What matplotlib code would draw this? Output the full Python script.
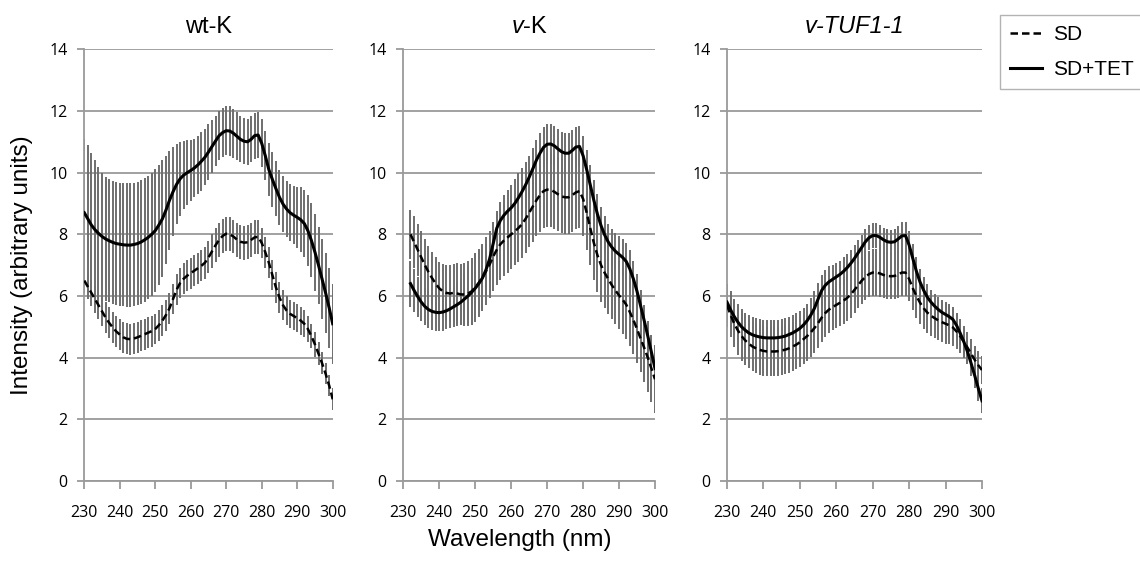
import numpy as np
import matplotlib
matplotlib.use("Agg")
import matplotlib.pyplot as plt

plt.rcParams['mathtext.fontset'] = 'custom'
plt.rcParams['mathtext.rm'] = 'Liberation Sans'
plt.rcParams['mathtext.it'] = 'Liberation Sans:italic'

# wavelength axis (nm)
wl_full = list(range(230, 301))
wl_vk = list(range(232, 301))

# ---- wt-K ----
wt_sd = [6.50, 6.30, 6.10, 5.90, 5.70, 5.50, 5.30, 5.13, 4.98, 4.85,
         4.75, 4.66, 4.61, 4.60, 4.62, 4.66, 4.71, 4.76, 4.81, 4.86,
         4.93, 5.05, 5.20, 5.38, 5.60, 5.90, 6.20, 6.42, 6.56, 6.66,
         6.74, 6.82, 6.90, 6.98, 7.08, 7.25, 7.45, 7.65, 7.82, 7.95,
         8.02, 8.00, 7.93, 7.83, 7.76, 7.73, 7.74, 7.82, 7.90, 7.92,
         7.72, 7.42, 7.08, 6.68, 6.28, 5.95, 5.70, 5.53, 5.42, 5.35,
         5.28, 5.20, 5.10, 4.93, 4.70, 4.43, 4.13, 3.82, 3.48, 3.10,
         2.65]
wt_sd_err = [0.40, 0.40, 0.42, 0.44, 0.46, 0.48, 0.50, 0.50, 0.50, 0.50,
             0.50, 0.50, 0.50, 0.50, 0.50, 0.50, 0.50, 0.50, 0.50, 0.50,
             0.50, 0.50, 0.50, 0.50, 0.50, 0.50, 0.50, 0.50, 0.50, 0.50,
             0.50, 0.50, 0.50, 0.50, 0.52, 0.52, 0.55, 0.55, 0.55, 0.55,
             0.55, 0.55, 0.55, 0.55, 0.55, 0.55, 0.55, 0.55, 0.55, 0.55,
             0.50, 0.50, 0.50, 0.50, 0.50, 0.50, 0.48, 0.48, 0.46, 0.46,
             0.45, 0.45, 0.44, 0.42, 0.40, 0.40, 0.38, 0.36, 0.35, 0.35,
             0.35]
wt_tet = [8.70, 8.50, 8.30, 8.15, 8.03, 7.93, 7.85, 7.79, 7.74, 7.70,
          7.68, 7.66, 7.65, 7.65, 7.67, 7.70, 7.75, 7.82, 7.90, 8.00,
          8.12, 8.30, 8.50, 8.78, 9.10, 9.38, 9.62, 9.80, 9.92, 10.00,
          10.07, 10.15, 10.25, 10.37, 10.50, 10.67, 10.85, 11.03, 11.20, 11.30,
          11.36, 11.35, 11.28, 11.18, 11.08, 11.02, 11.00, 11.08, 11.20, 11.22,
          10.95, 10.55, 10.10, 9.78, 9.48, 9.20, 8.98, 8.82, 8.70, 8.62,
          8.55, 8.47, 8.35, 8.12, 7.80, 7.42, 7.00, 6.55, 6.10, 5.62,
          5.10]
wt_tet_err = [2.40, 2.40, 2.35, 2.25, 2.15, 2.05, 2.00, 2.00, 2.00, 2.00,
              2.00, 2.00, 2.00, 2.00, 2.00, 2.00, 2.00, 2.00, 2.00, 2.00,
              2.00, 1.95, 1.90, 1.75, 1.60, 1.45, 1.30, 1.20, 1.10, 1.05,
              1.00, 0.95, 0.95, 0.95, 0.90, 0.90, 0.85, 0.80, 0.80, 0.80,
              0.80, 0.80, 0.80, 0.78, 0.75, 0.75, 0.75, 0.75, 0.75, 0.75,
              0.78, 0.80, 0.85, 0.88, 0.90, 0.90, 0.90, 0.90, 0.92, 0.95,
              1.00, 1.05, 1.10, 1.15, 1.20, 1.25, 1.25, 1.30, 1.30, 1.30,
              1.30]

# ---- v-K ----
vk_sd = [8.00, 7.75, 7.50, 7.25, 7.00, 6.78, 6.58, 6.40, 6.25, 6.15,
         6.10, 6.08, 6.10, 6.08, 6.05, 6.05, 6.08, 6.15, 6.28, 6.43,
         6.60, 6.80, 7.02, 7.28, 7.50, 7.68, 7.80, 7.90, 8.00, 8.10,
         8.20, 8.33, 8.50, 8.70, 8.90, 9.10, 9.27, 9.40, 9.45, 9.44,
         9.38, 9.30, 9.23, 9.20, 9.20, 9.27, 9.36, 9.40, 9.15, 8.70,
         8.20, 7.72, 7.32, 7.00, 6.75, 6.55, 6.35, 6.18, 6.02, 5.88,
         5.72, 5.48, 5.22, 4.93, 4.62, 4.32, 4.00, 3.65, 3.30]
vk_sd_err = [0.80, 0.85, 0.85, 0.85, 0.85, 0.85, 0.85, 0.85, 0.85, 0.88,
             0.90, 0.92, 0.95, 0.98, 1.00, 1.02, 1.05, 1.08, 1.10, 1.10,
             1.10, 1.10, 1.10, 1.12, 1.15, 1.15, 1.15, 1.15, 1.12, 1.10,
             1.10, 1.10, 1.10, 1.12, 1.15, 1.15, 1.18, 1.18, 1.20, 1.20,
             1.20, 1.20, 1.20, 1.20, 1.20, 1.20, 1.20, 1.20, 1.20, 1.20,
             1.20, 1.20, 1.20, 1.18, 1.15, 1.12, 1.10, 1.10, 1.10, 1.10,
             1.10, 1.10, 1.10, 1.10, 1.10, 1.10, 1.10, 1.10, 1.10]
vk_tet = [6.40, 6.18, 5.98, 5.80, 5.66, 5.56, 5.50, 5.47, 5.46, 5.48,
          5.52, 5.58, 5.65, 5.72, 5.80, 5.90, 6.00, 6.12, 6.25, 6.40,
          6.58, 6.85, 7.20, 7.70, 8.20, 8.45, 8.62, 8.75, 8.86, 9.00,
          9.18, 9.38, 9.60, 9.85, 10.12, 10.40, 10.63, 10.82, 10.92, 10.93,
          10.87, 10.77, 10.68, 10.63, 10.63, 10.72, 10.83, 10.85, 10.55, 10.10,
          9.60, 9.10, 8.65, 8.28, 7.98, 7.75, 7.58, 7.45, 7.35, 7.25,
          7.12, 6.88, 6.55, 6.15, 5.68, 5.20, 4.70, 4.18, 3.65]
vk_tet_err = [0.75, 0.70, 0.65, 0.60, 0.60, 0.60, 0.60, 0.60, 0.60, 0.60,
              0.60, 0.62, 0.65, 0.70, 0.75, 0.85, 0.95, 1.05, 1.10, 1.05,
              1.00, 0.85, 0.70, 0.60, 0.55, 0.60, 0.65, 0.70, 0.75, 0.78,
              0.80, 0.78, 0.75, 0.70, 0.68, 0.65, 0.65, 0.65, 0.65, 0.65,
              0.65, 0.65, 0.65, 0.65, 0.65, 0.65, 0.65, 0.65, 0.65, 0.65,
              0.65, 0.65, 0.65, 0.62, 0.60, 0.60, 0.60, 0.60, 0.60, 0.60,
              0.60, 0.60, 0.58, 0.55, 0.52, 0.50, 0.48, 0.46, 0.45]

# ---- v-TUF1-1 ----
tuf_sd = [5.70, 5.38, 5.10, 4.88, 4.70, 4.56, 4.45, 4.36, 4.30, 4.25,
          4.22, 4.20, 4.20, 4.20, 4.21, 4.23, 4.26, 4.30, 4.36, 4.42,
          4.50, 4.60, 4.70, 4.82, 4.96, 5.12, 5.30, 5.45, 5.56, 5.64,
          5.71, 5.78, 5.85, 5.94, 6.05, 6.20, 6.35, 6.50, 6.62, 6.71,
          6.76, 6.76, 6.73, 6.68, 6.65, 6.64, 6.65, 6.70, 6.76, 6.76,
          6.55, 6.25, 6.00, 5.78, 5.60, 5.46, 5.36, 5.28, 5.21, 5.15,
          5.10, 5.05, 4.98, 4.85, 4.70, 4.52, 4.33, 4.13, 3.93, 3.75,
          3.60]
tuf_sd_err = [0.70, 0.72, 0.75, 0.78, 0.80, 0.80, 0.80, 0.80, 0.80, 0.80,
              0.80, 0.80, 0.80, 0.80, 0.80, 0.80, 0.80, 0.80, 0.80, 0.80,
              0.80, 0.80, 0.80, 0.80, 0.80, 0.80, 0.78, 0.78, 0.76, 0.75,
              0.75, 0.75, 0.75, 0.75, 0.75, 0.75, 0.75, 0.75, 0.75, 0.75,
              0.75, 0.75, 0.75, 0.75, 0.75, 0.75, 0.75, 0.75, 0.75, 0.75,
              0.72, 0.70, 0.70, 0.68, 0.68, 0.66, 0.65, 0.65, 0.65, 0.65,
              0.65, 0.62, 0.60, 0.58, 0.55, 0.52, 0.50, 0.48, 0.46, 0.45,
              0.45]
tuf_tet = [5.80, 5.55, 5.33, 5.15, 5.00, 4.89, 4.80, 4.74, 4.70, 4.67,
           4.65, 4.64, 4.64, 4.64, 4.65, 4.67, 4.70, 4.75, 4.80, 4.87,
           4.95, 5.06, 5.20, 5.38, 5.60, 5.90, 6.18, 6.35, 6.46, 6.54,
           6.62, 6.70, 6.80, 6.92, 7.06, 7.22, 7.40, 7.58, 7.76, 7.89,
           7.96, 7.96, 7.90, 7.82, 7.76, 7.74, 7.76, 7.85, 7.95, 7.96,
           7.65, 7.22, 6.80, 6.45, 6.18, 5.96, 5.80, 5.67, 5.56, 5.47,
           5.40, 5.33, 5.24, 5.05, 4.80, 4.52, 4.20, 3.82, 3.42, 3.00,
           2.60]
tuf_tet_err = [0.60, 0.60, 0.58, 0.58, 0.57, 0.57, 0.57, 0.57, 0.57, 0.57,
               0.57, 0.57, 0.57, 0.57, 0.57, 0.57, 0.57, 0.57, 0.57, 0.57,
               0.55, 0.55, 0.55, 0.55, 0.55, 0.52, 0.50, 0.50, 0.50, 0.48,
               0.46, 0.45, 0.45, 0.44, 0.42, 0.42, 0.40, 0.40, 0.40, 0.40,
               0.40, 0.40, 0.40, 0.40, 0.40, 0.40, 0.40, 0.42, 0.45, 0.45,
               0.45, 0.45, 0.45, 0.44, 0.42, 0.42, 0.40, 0.40, 0.40, 0.40,
               0.40, 0.40, 0.40, 0.40, 0.40, 0.40, 0.40, 0.40, 0.40, 0.40,
               0.40]

titles = ["wt-K", r"$\mathit{v}$-K", "v-TUF1-1"]
title_styles = ["normal", "normal", "italic"]
series_labels = ["SD", "SD+TET"]
yticks = [0, 2, 4, 6, 8, 10, 12, 14]
xticks = [230, 240, 250, 260, 270, 280, 290, 300]

panels = [
    (wl_full, wt_sd, wt_sd_err, wl_full, wt_tet, wt_tet_err),
    (wl_vk, vk_sd, vk_sd_err, wl_vk, vk_tet, vk_tet_err),
    (wl_full, tuf_sd, tuf_sd_err, wl_full, tuf_tet, tuf_tet_err),
]

W, H = 1140, 568
fig = plt.figure(figsize=(W / 100, H / 100), dpi=100)

# axes boxes in pixels: left, right
boxes = [(84.3, 332.7), (403.3, 655.0), (727.0, 982.0)]
top_px, bot_px = 49.3, 481.0

grid_col = "#9a9a9a"
err_col = "#6e6e6e"
tick_font = "Open Sans"
label_font = "Liberation Sans"

handles = None
for i, (box, data) in enumerate(zip(boxes, panels)):
    l, r = box
    ax = fig.add_axes([l / W, 1 - bot_px / H, (r - l) / W, (bot_px - top_px) / H])
    x1, y1, e1, x2, y2, e2 = data

    ax.errorbar(x1, y1, yerr=e1, fmt='none', ecolor=err_col, elinewidth=1.4,
                capsize=0, zorder=2)
    ax.errorbar(x2, y2, yerr=e2, fmt='none', ecolor=err_col, elinewidth=1.4,
                capsize=0, zorder=2)
    h1, = ax.plot(x1, y1, color='black', lw=1.8, linestyle=(0, (3, 1.6)), zorder=4)
    h2, = ax.plot(x2, y2, color='black', lw=2.2, zorder=4)
    handles = [h1, h2]

    ax.set_xlim(230, 300)
    ax.set_ylim(0, 14)
    ax.set_yticks(yticks)
    ax.set_xticks(xticks)
    ax.yaxis.grid(True, color=grid_col, lw=1.3)
    ax.set_axisbelow(True)
    for s in ['top', 'right']:
        ax.spines[s].set_visible(False)
    for s in ['left', 'bottom']:
        ax.spines[s].set_color(grid_col)
        ax.spines[s].set_linewidth(1.3)
    ax.tick_params(axis='y', length=5, width=1.3, color=grid_col, pad=7,
                   labelsize=11.5)
    ax.tick_params(axis='x', length=6, width=1.3, color=grid_col, pad=11.5,
                   labelsize=11.5)
    for lab in ax.get_xticklabels() + ax.get_yticklabels():
        lab.set_fontfamily(tick_font)
    ax.set_title(titles[i], fontsize=17, family=label_font,
                 style=title_styles[i], pad=12)

fig.text(22 / W, 1 - 265 / H, "Intensity (arbitrary units)", rotation=90,
         ha='center', va='center', fontsize=17.5, family=label_font)
fig.text(520 / W, 1 - 540 / H, "Wavelength (nm)", ha='center', va='center',
         fontsize=17.5, family=label_font)

# legend box runs off the right edge, as in the original figure
leg = fig.legend(handles, series_labels, loc='upper left',
                 bbox_to_anchor=(1000 / W, 1 - 15 / H), frameon=True,
                 fancybox=False, edgecolor="#a0a0a0", handlelength=1.5,
                 handletextpad=0.55, borderpad=0.5, borderaxespad=0,
                 labelspacing=0.75, prop={'family': label_font, 'size': 15})
leg.get_frame().set_linewidth(1.0)

fig.savefig("out.png", dpi=100)
